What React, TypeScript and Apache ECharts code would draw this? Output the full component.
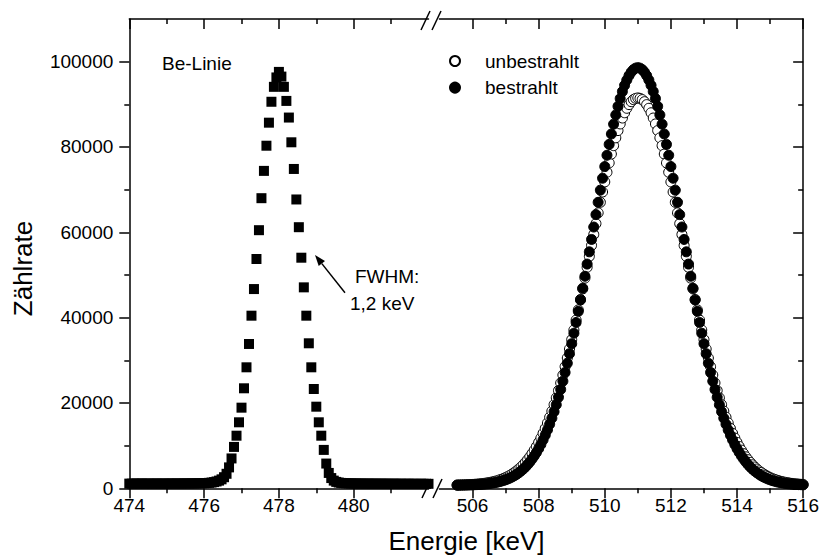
import React, { useEffect, useRef } from "react";
import * as echarts from "echarts";

// Energy calibration of the channels (keV)
const BE_START_KEV = 474;
const PEAK_START_KEV = 505.5333;
const CHANNEL_KEV = 1 / 15;

// Be line (squares), counts per channel from 474 keV
const beLine = [
  1100, 1080, 1110, 1090, 1100, 1120, 1090, 1100, 1110, 1080,
  1100, 1120, 1100, 1090, 1110, 1100, 1120, 1110, 1100, 1130,
  1120, 1110, 1130, 1140, 1130, 1150, 1140, 1160, 1170,
  1180, 1200, 1230, 1280, 1350, 1450, 1600, 1800, 2100, 2600,
  3400, 4900, 7000, 9700, 12330, 15470, 18900, 23440, 28360, 33830,
  40460, 46700, 53750, 60500, 68000, 74400, 80300, 85700, 90600, 94100,
  96300, 97600,
  96500, 94100, 90800, 86900, 81100, 74850, 67700, 61200, 54050, 47100,
  40460, 33990, 28360, 23280, 19130, 15470, 12330, 9000, 5800, 3600,
  2400, 1800, 1500, 1350, 1260, 1200,
  1170, 1150, 1140, 1130, 1120, 1110, 1100, 1110, 1090, 1100,
  1080, 1100, 1090, 1070, 1080, 1090, 1080, 1070, 1060, 1080,
  1070, 1060, 1070, 1050, 1060, 1070, 1050, 1060, 1050, 1040,
  1060, 1050, 1040, 1050,
];

// 511 keV annihilation line, unirradiated (open circles)
const unbestrahlt = [
  760, 770, 790, 800, 820, 840, 870, 900, 940, 980,
  1030, 1080, 1140, 1210, 1300, 1390, 1500, 1620, 1760, 1920,
  2090, 2290, 2520, 2770, 3050, 3360, 3710, 4090, 4520, 4990,
  5510, 6080, 6700, 7380, 8130, 8940, 9810, 10760, 11780, 12880,
  14050, 15320, 16660, 18090, 19610, 21210, 22910, 24690, 26550, 28510,
  30540, 32660, 34850, 37110, 39440, 41820, 44260, 46740, 49260, 51800,
  54370, 56930, 59490, 62040, 64560, 67030, 69450, 71810, 74080, 76270,
  78350, 80310, 82150, 83850, 85400, 86790, 88020, 89070, 89930, 90620,
  91110, 91400, 91500,
  91400, 91110, 90620, 89930, 89070, 88020, 86790, 85400, 83850, 82150,
  80310, 78350, 76270, 74080, 71810, 69450, 67030, 64560, 62040, 59490,
  56930, 54370, 51800, 49260, 46740, 44260, 41820, 39440, 37110, 34850,
  32660, 30540, 28510, 26550, 24690, 22910, 21210, 19610, 18090, 16660,
  15320, 14050, 12880, 11780, 10760, 9810, 8940, 8130, 7380, 6700,
  6080, 5510, 4990, 4520, 4090, 3710, 3360, 3050, 2770, 2520,
  2290, 2090, 1920, 1760, 1620, 1500, 1390, 1300, 1210, 1140,
  1080, 1030, 980, 940, 900,
];

// 511 keV annihilation line, irradiated (filled circles)
const bestrahlt = [
  740, 740, 750, 760, 770, 780, 790, 810, 840, 860,
  890, 930, 970, 1020, 1080, 1140, 1220, 1310, 1410, 1530,
  1670, 1820, 2000, 2200, 2420, 2670, 2960, 3280, 3650, 4050,
  4500, 5000, 5560, 6170, 6850, 7590, 8400, 9290, 10260, 11320,
  12460, 13690, 15020, 16440, 17970, 19600, 21330, 23170, 25110, 27160,
  29310, 31560, 33900, 36340, 38870, 41470, 44150, 46900, 49700, 52550,
  55430, 58330, 61240, 64150, 67030, 69880, 72680, 75410, 78060, 80610,
  83050, 85350, 87520, 89520, 91350, 93000, 94460, 95700, 96740, 97550,
  98130, 98480, 98600,
  98480, 98130, 97550, 96740, 95700, 94460, 93000, 91350, 89520, 87520,
  85350, 83050, 80610, 78060, 75410, 72680, 69880, 67030, 64150, 61240,
  58330, 55430, 52550, 49700, 46900, 44150, 41470, 38870, 36340, 33900,
  31560, 29310, 27160, 25110, 23170, 21330, 19600, 17970, 16440, 15020,
  13690, 12460, 11320, 10260, 9290, 8400, 7590, 6850, 6170, 5560,
  5000, 4500, 4050, 3650, 3280, 2960, 2670, 2420, 2200, 2000,
  1820, 1670, 1530, 1410, 1310, 1220, 1140, 1080, 1020, 970,
  930, 890, 860, 840, 810,
];

const xTicksLeft = [474, 476, 478, 480];
const xMinorLeft = [475, 477, 479, 481];
const xTicksRight = [506, 508, 510, 512, 514, 516];
const xMinorRight = [507, 509, 511, 513, 515];
const yTicks = [0, 20000, 40000, 60000, 80000, 100000];
const yMinor = [10000, 30000, 50000, 70000, 90000];

const FONT = '"Liberation Sans", Arial, sans-serif';

function toPairs(start: number, values: number[]) {
  return values.map((v, i) => [start + i * CHANNEL_KEV, v]);
}

function tickAxis(opts: {
  grid: number;
  position: string;
  min: number;
  max: number;
  ticks: number[];
  length: number;
  inside: boolean;
  line: boolean;
  labels?: boolean;
  labelMargin?: number;
}) {
  return {
    type: "value",
    gridIndex: opts.grid,
    position: opts.position,
    min: opts.min,
    max: opts.max,
    axisLine: {
      show: opts.line,
      onZero: false,
      lineStyle: { color: "#000", width: 1.5 },
    },
    axisTick: {
      show: true,
      inside: opts.inside,
      length: opts.length,
      customValues: opts.ticks,
      lineStyle: { color: "#000", width: 1.5 },
    },
    axisLabel: {
      show: !!opts.labels,
      customValues: opts.ticks,
      margin: opts.labelMargin ?? 8,
      color: "#000",
      fontSize: 19,
      fontFamily: FONT,
      formatter: (v: number) => String(v),
    },
    splitLine: { show: false },
    minorTick: { show: false },
  };
}

export default function App() {
  const ref = useRef<HTMLDivElement>(null);

  useEffect(() => {
    if (!ref.current) return;
    const chart = echarts.init(ref.current, null, { renderer: "svg" });

    // arrow geometry
    const tip = [315, 255];
    const tail = [345, 292.7];
    const dx = tip[0] - tail[0];
    const dy = tip[1] - tail[1];
    const len = Math.hypot(dx, dy);
    const ux = dx / len;
    const uy = dy / len;
    const headLen = 11;
    const headW = 4;
    const bx = tip[0] - headLen * ux;
    const by = tip[1] - headLen * uy;
    const px = -uy;
    const py = ux;

    const option: any = {
      animation: false,
      backgroundColor: "#fff",
      textStyle: { fontFamily: FONT, color: "#000" },
      grid: [
        { left: 129.3, top: 19, width: 299.2, height: 469.3 },
        { left: 439.45, top: 19, width: 366.25, height: 469.3 },
      ],
      xAxis: [
        tickAxis({ grid: 0, position: "bottom", min: 474, max: 482, ticks: xTicksLeft, length: 10, inside: false, line: true, labels: true, labelMargin: 8 }),
        tickAxis({ grid: 0, position: "bottom", min: 474, max: 482, ticks: xMinorLeft, length: 5, inside: false, line: false }),
        tickAxis({ grid: 0, position: "top", min: 474, max: 482, ticks: xTicksLeft, length: 10, inside: true, line: true }),
        tickAxis({ grid: 0, position: "top", min: 474, max: 482, ticks: xMinorLeft, length: 5, inside: true, line: false }),
        tickAxis({ grid: 1, position: "bottom", min: 505, max: 516, ticks: xTicksRight, length: 10, inside: false, line: true, labels: true, labelMargin: 8 }),
        tickAxis({ grid: 1, position: "bottom", min: 505, max: 516, ticks: xMinorRight, length: 5, inside: false, line: false }),
        tickAxis({ grid: 1, position: "top", min: 505, max: 516, ticks: xTicksRight, length: 10, inside: true, line: true }),
        tickAxis({ grid: 1, position: "top", min: 505, max: 516, ticks: xMinorRight, length: 5, inside: true, line: false }),
      ],
      yAxis: [
        tickAxis({ grid: 0, position: "left", min: 0, max: 110000, ticks: yTicks, length: 10, inside: false, line: true, labels: true, labelMargin: 16 }),
        tickAxis({ grid: 0, position: "left", min: 0, max: 110000, ticks: yMinor, length: 5, inside: false, line: false }),
        tickAxis({ grid: 1, position: "right", min: 0, max: 110000, ticks: yTicks, length: 10, inside: true, line: true }),
        tickAxis({ grid: 1, position: "right", min: 0, max: 110000, ticks: yMinor, length: 5, inside: true, line: false }),
      ],
      legend: {
        data: ["unbestrahlt", "bestrahlt"],
        orient: "vertical",
        left: 444,
        top: 46.5,
        itemWidth: 50,
        itemHeight: 10,
        itemGap: 7.6,
        symbolKeepAspect: true,
        selectedMode: false,
        textStyle: { fontSize: 19, color: "#000", fontFamily: FONT },
      },
      series: [
        {
          name: "Be-Linie",
          type: "scatter",
          xAxisIndex: 0,
          yAxisIndex: 0,
          symbol: "rect",
          symbolSize: 10,
          silent: true,
          itemStyle: { color: "#000", opacity: 1 },
          data: toPairs(BE_START_KEV, beLine),
        },
        {
          name: "unbestrahlt",
          type: "scatter",
          xAxisIndex: 4,
          yAxisIndex: 2,
          symbol: "circle",
          symbolSize: 10,
          silent: true,
          itemStyle: { color: "#fff", borderColor: "#000", borderWidth: 1, opacity: 1 },
          data: toPairs(PEAK_START_KEV, unbestrahlt),
        },
        {
          name: "bestrahlt",
          type: "scatter",
          xAxisIndex: 4,
          yAxisIndex: 2,
          symbol: "circle",
          symbolSize: 10,
          silent: true,
          itemStyle: { color: "#000", borderColor: "#000", borderWidth: 1, opacity: 1 },
          data: toPairs(PEAK_START_KEV, bestrahlt),
        },
      ],
      graphic: {
        elements: [
          // axis break marks
          { type: "line", z: 100, shape: { x1: 421, y1: 30, x2: 430, y2: 11 }, style: { stroke: "#000", lineWidth: 1.5 } },
          { type: "line", z: 100, shape: { x1: 432, y1: 30, x2: 441, y2: 11 }, style: { stroke: "#000", lineWidth: 1.5 } },
          { type: "line", z: 100, shape: { x1: 422, y1: 498, x2: 431, y2: 479 }, style: { stroke: "#000", lineWidth: 1.5 } },
          { type: "line", z: 100, shape: { x1: 433, y1: 498, x2: 442, y2: 479 }, style: { stroke: "#000", lineWidth: 1.5 } },
          // annotations
          {
            type: "text", z: 100, x: 162, y: 63.5,
            style: { text: "Be-Linie", fill: "#000", font: `19px ${FONT}`, align: "left", verticalAlign: "middle", textAlign: "left", textVerticalAlign: "middle" },
          },
          {
            type: "text", z: 100, x: 355, y: 276.7,
            style: { text: "FWHM:", fill: "#000", font: `19px ${FONT}`, align: "left", verticalAlign: "middle", textAlign: "left", textVerticalAlign: "middle" },
          },
          {
            type: "text", z: 100, x: 350, y: 303,
            style: { text: "1,2 keV", fill: "#000", font: `19px ${FONT}`, align: "left", verticalAlign: "middle", textAlign: "left", textVerticalAlign: "middle" },
          },
          {
            type: "line", z: 100,
            shape: { x1: tail[0], y1: tail[1], x2: bx, y2: by },
            style: { stroke: "#000", lineWidth: 1.5 },
          },
          {
            type: "polygon", z: 100,
            shape: { points: [[tip[0], tip[1]], [bx + headW * px, by + headW * py], [bx - headW * px, by - headW * py]] },
            style: { fill: "#000" },
          },
          // axis titles
          {
            type: "text", z: 100, x: 466.5, y: 541,
            style: { text: "Energie [keV]", fill: "#000", font: `26px ${FONT}`, align: "center", verticalAlign: "middle", textAlign: "center", textVerticalAlign: "middle" },
          },
          {
            type: "text", z: 100, x: 23, y: 268.5, rotation: Math.PI / 2,
            style: { text: "Zählrate", fill: "#000", font: `26px ${FONT}`, align: "center", verticalAlign: "middle", textAlign: "center", textVerticalAlign: "middle" },
          },
        ],
      },
    };

    chart.setOption(option);
    return () => chart.dispose();
  }, []);

  return (
    <div
      ref={ref}
      style={{ position: "absolute", left: 0, top: 0, width: 822, height: 556, background: "#fff" }}
    />
  );
}
